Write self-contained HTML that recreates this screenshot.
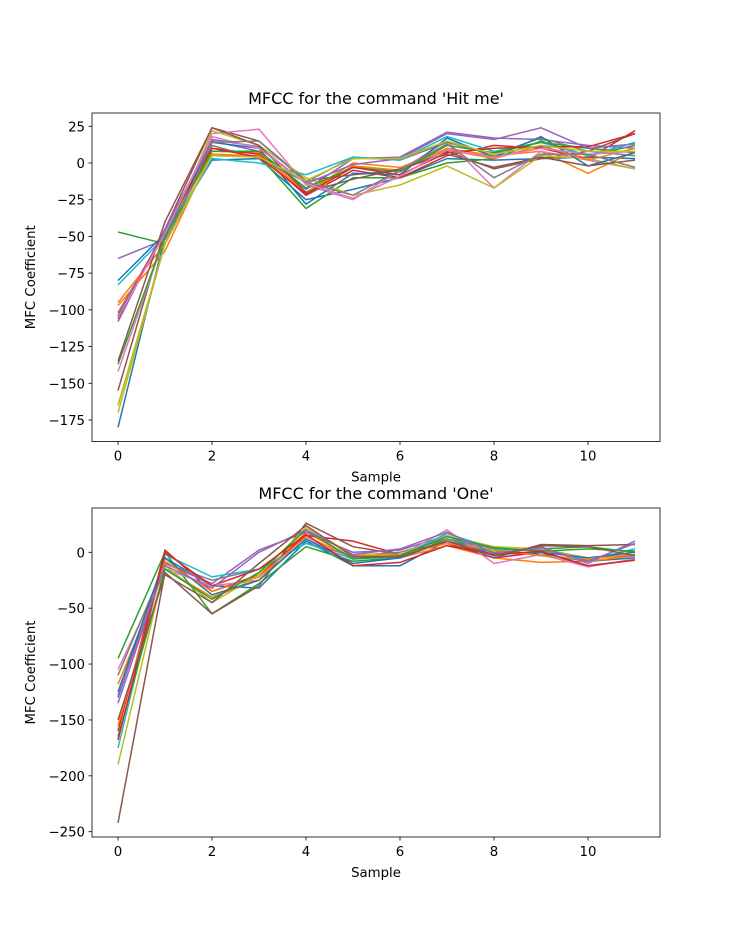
<!DOCTYPE html>
<html><head><meta charset="utf-8"><style>
body{margin:0;background:#fff;}
svg{display:block;font-family:"DejaVu Sans","Liberation Sans",sans-serif;}
</style></head><body>
<svg id="chart" width="734" height="940"></svg>
<script>
const xCategories=[0,1,2,3,4,5,6,7,8,9,10,11];
const xTicks=[0,2,4,6,8,10];
const topYTicks=[25,0,-25,-50,-75,-100,-125,-150,-175];
const botYTicks=[0,-50,-100,-150,-200,-250];
const topTitle="MFCC for the command 'Hit me'";
const botTitle="MFCC for the command 'One'";
const topSeries=[
[-180,-50,2,3,-25,-18,-10,3,2,3,4,3],
[-97,-60,8,7,-20,-2,-5,10,5,8,-7,8],
[-47,-55,5,5,-31,-10,-10,0,3,15,5,12],
[-104,-48,10,6,-22,-5,-10,5,12,10,3,22],
[-65,-52,15,8,-18,3,4,21,17,16,12,10],
[-155,-45,24,15,-12,-8,-5,8,-4,3,8,20],
[-142,-50,20,23,-15,-25,-5,15,-17,8,2,-4],
[-102,-47,12,3,-13,4,2,14,6,17,8,5],
[-170,-55,22,12,-10,-22,-15,-2,-17,5,3,-4],
[-83,-50,3,0,-8,4,2,18,8,14,5,14],
[-80,-48,14,10,-28,-7,-8,17,4,18,-2,7],
[-95,-55,6,5,-20,0,-3,9,3,12,2,10],
[-137,-50,8,8,-17,-3,-6,12,7,14,10,7],
[-106,-45,10,4,-21,-3,-8,7,10,11,11,20],
[-108,-45,16,11,-14,-1,3,20,16,24,10,13],
[-135,-40,24,12,-20,-11,-4,6,-3,4,-2,2],
[-105,-48,18,10,-14,-24,-9,9,4,10,6,8],
[-165,-55,14,15,-13,-22,-5,13,-10,6,6,-3],
[-165,-55,5,4,-12,3,3,15,6,12,8,8]
];
const botSeries=[
[-130,-5,-30,-32,10,-12,-12,10,0,-2,-8,-5],
[-118,-15,-40,-25,18,-5,-5,6,-5,-9,-8,-3],
[-95,0,-55,-28,5,-8,-5,12,0,3,5,0],
[-160,2,-35,-20,15,10,-2,8,-5,0,-12,-7],
[-135,-10,-28,2,18,0,2,15,-3,5,-10,10],
[-242,-18,-55,-30,26,5,-2,10,-5,7,6,7],
[-105,-15,-30,-25,12,-5,-3,20,-10,-2,-13,-6],
[-110,-10,-25,-15,8,-3,0,12,3,2,-5,-3],
[-190,-12,-45,-20,22,-2,-2,15,5,3,-5,-2],
[-175,-2,-22,-15,8,-6,-4,17,3,-3,-7,3],
[-125,-5,-38,-25,12,-10,-5,10,-2,0,-5,0],
[-155,-8,-35,-22,14,-4,-2,8,2,-3,-6,-2],
[-165,-15,-42,-18,20,-6,-3,14,4,1,3,1],
[-168,0,-30,-15,16,-12,-9,6,-2,1,-12,-7],
[-128,-12,-32,0,20,-2,3,18,-1,4,-8,8],
[-150,-20,-45,-10,24,-4,-4,10,-3,6,5,-3]
];
const colors=["#1f77b4","#ff7f0e","#2ca02c","#d62728","#9467bd","#8c564b","#e377c2","#7f7f7f","#bcbd22","#17becf"];
const NS="http://www.w3.org/2000/svg";
const svg=document.getElementById('chart');
function mk(tag,attrs,parent){const e=document.createElementNS(NS,tag);for(const k in attrs)e.setAttribute(k,attrs[k]);(parent||svg).appendChild(e);return e;}
function panel(cfg){
  const g=mk('g',{});
  
  
  const L=92,R=660,T=cfg.top,B=cfg.bottom;
  const xs=v=>118+v*47;
  const ys=v=>cfg.y0+(v-cfg.v0)*(cfg.y1-cfg.y0)/(cfg.v1-cfg.v0);
  cfg.series.forEach((s,i)=>{
    const d=s.map((v,j)=>(j?'L':'M')+xs(xCategories[j]).toFixed(1)+' '+ys(v).toFixed(1)).join(' ');
    const p=mk('path',{d:d,fill:'none',stroke:colors[i%10],'stroke-width':1.5},g);
    
    
  });
  const fr=mk('rect',{x:L,y:T,width:R-L,height:B-T,fill:'none',stroke:'#000','stroke-width':0.8},g);
  
  
  xTicks.forEach(t=>{
    const x=xs(t);
    mk('line',{x1:x,x2:x,y1:B,y2:B+3.5,stroke:'#000','stroke-width':0.8},g);
    const tx=mk('text',{x:x,y:B+19,'font-size':13.3,'text-anchor':'middle'},g);tx.textContent=t;
    
    
  });
  cfg.yTicks.forEach(t=>{
    const y=ys(t);
    mk('line',{x1:L-3.5,x2:L,y1:y,y2:y,stroke:'#000','stroke-width':0.8},g);
    const tx=mk('text',{x:L-7,y:y+5,'font-size':13.3,'text-anchor':'end'},g);tx.textContent=String(t).replace('-','\u2212');
    
    
  });
  const xl=mk('text',{x:376,y:B+40,'font-size':13.3,'text-anchor':'middle'},g);xl.textContent='Sample';
  
  
  const yc=(T+B)/2;
  const yl=mk('text',{x:35,y:yc,'font-size':13.3,'text-anchor':'middle',transform:`rotate(-90 35 ${yc})`},g);yl.textContent='MFC Coefficient';
  
  
  const tt=mk('text',{x:376,y:T-9,'font-size':16,'text-anchor':'middle'},g);tt.textContent=cfg.title;
  
  
}
panel({name:'hit-me-panel',top:113,bottom:441.5,v0:0,y0:163,v1:-175,y1:420,yTicks:topYTicks,series:topSeries,title:topTitle});
panel({name:'one-panel',top:508,bottom:837,v0:0,y0:552.3,v1:-250,y1:831.7,yTicks:botYTicks,series:botSeries,title:botTitle});
</script>
</body></html>
